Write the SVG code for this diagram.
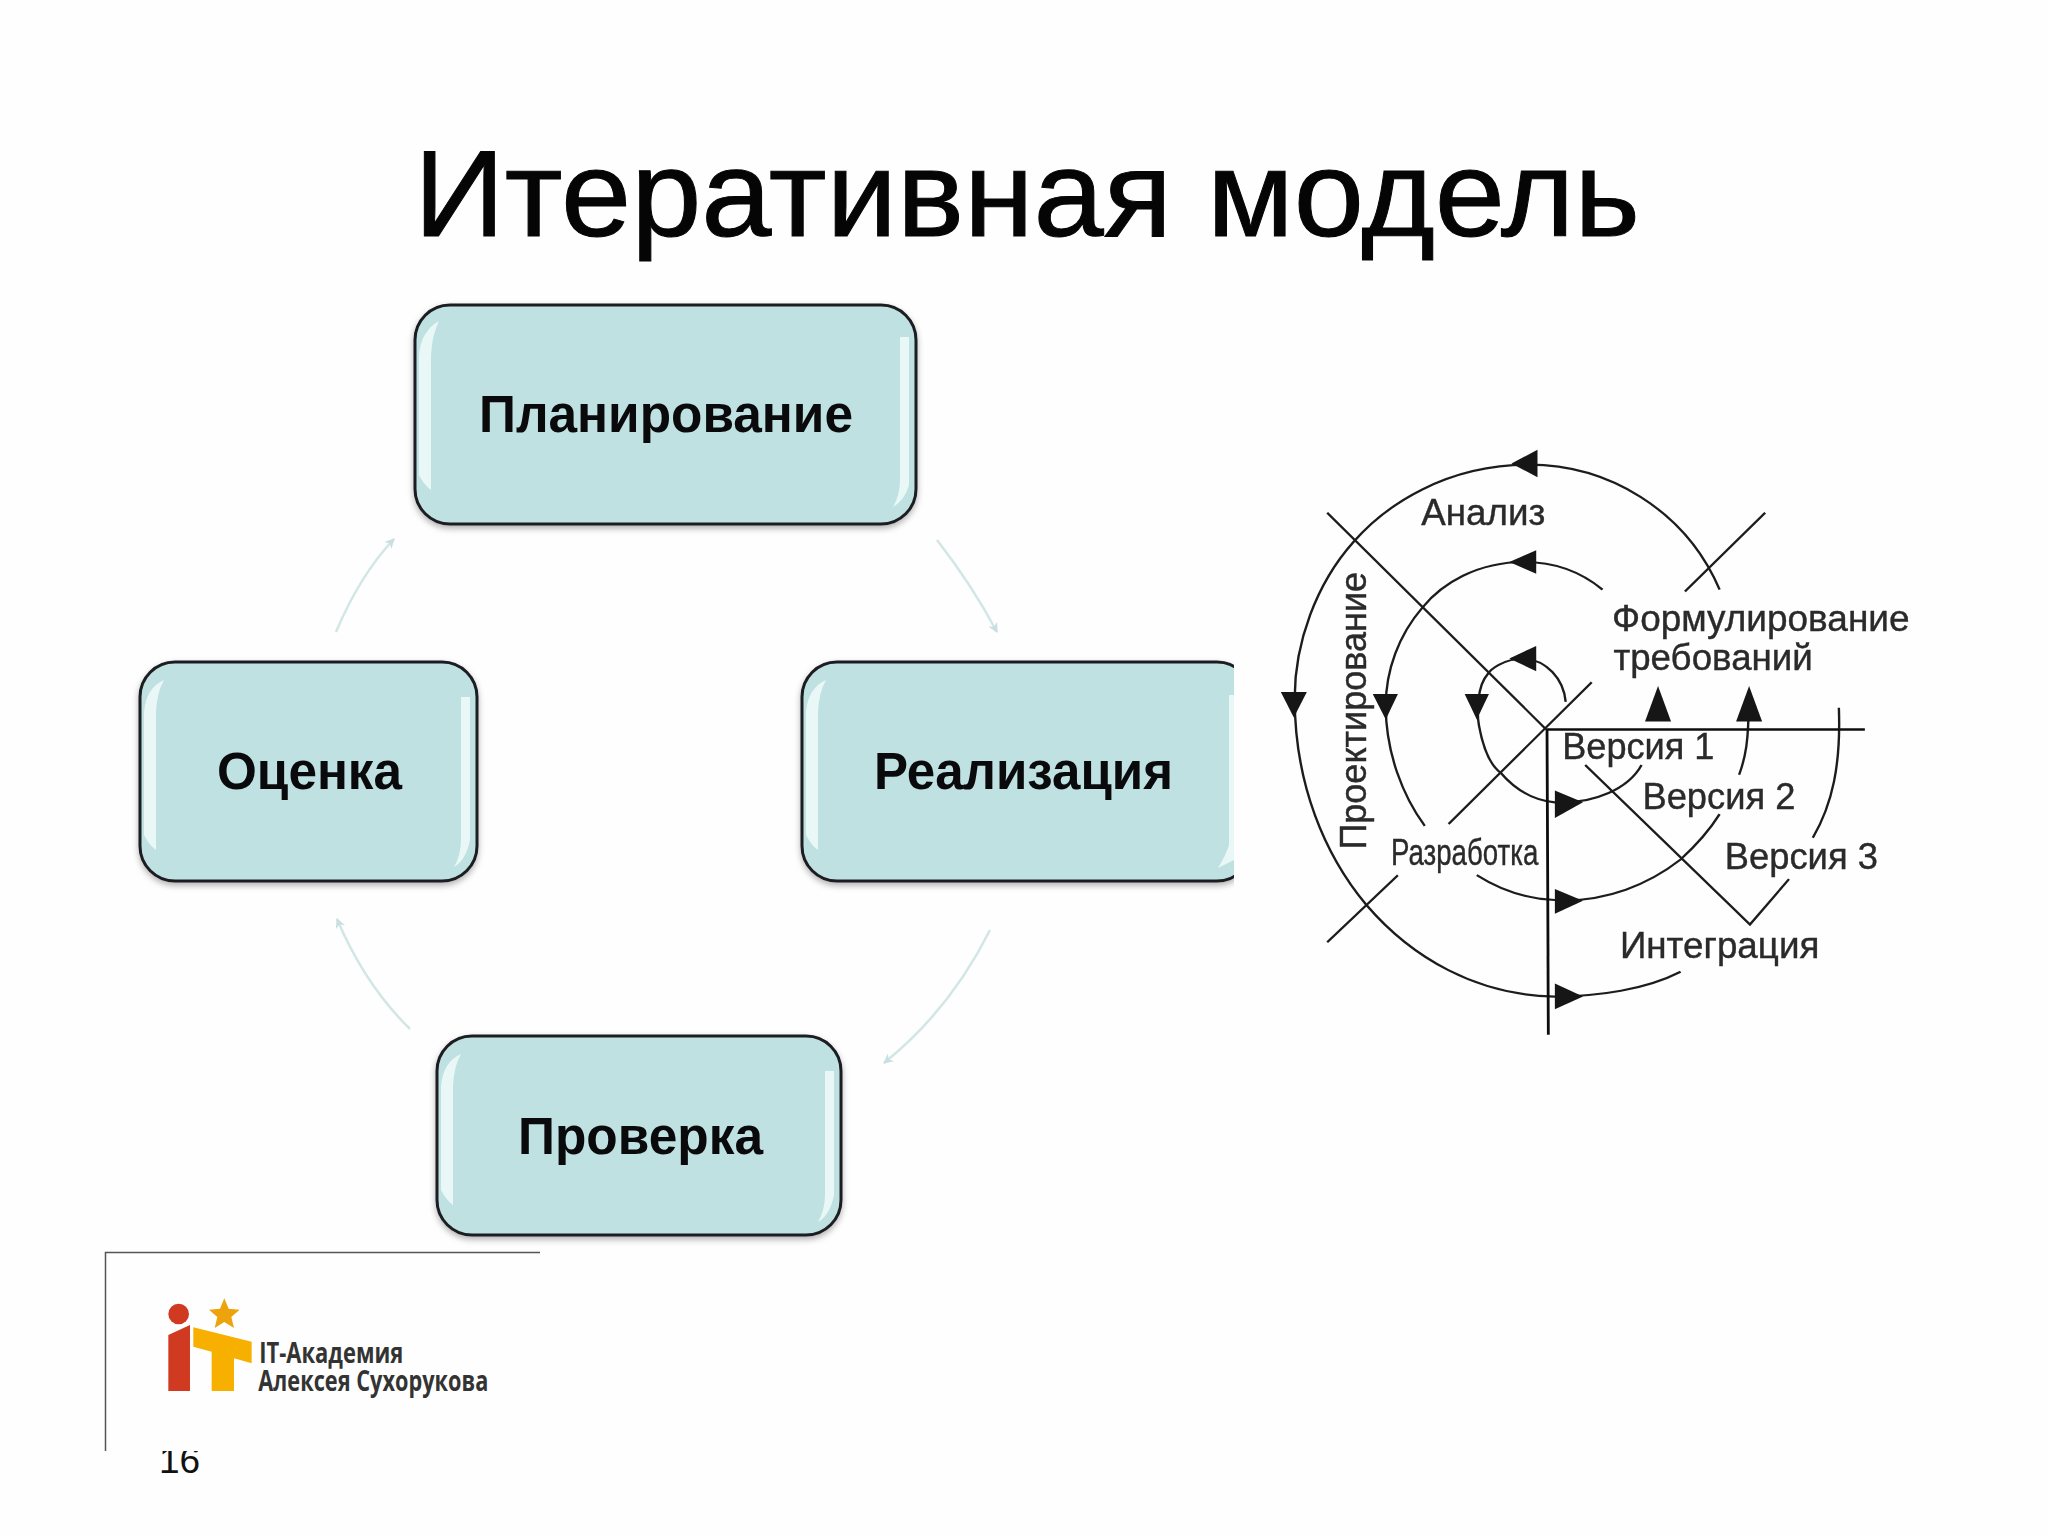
<svg xmlns="http://www.w3.org/2000/svg" width="2048" height="1536" viewBox="0 0 2048 1536">
<style>
.box{fill:#bfe1e2;stroke:#1a1f20;stroke-width:3}
.hl{fill:#f2fbfb;opacity:.85;filter:url(#soft)}
.bt{font-family:"Liberation Sans",Arial,sans-serif;font-weight:700;font-size:51px;fill:#0a0a0c}
.flow{fill:none;stroke:#d3e6e6;stroke-width:2.500;marker-end:url(#ah)}
.sp{fill:none;stroke:#1c1c1c;stroke-width:5.500}
.ax{fill:none;stroke:#111;stroke-width:6.500}
.tri{fill:#151515}
.st{font-family:"Liberation Sans",Arial,sans-serif;font-size:92px;fill:#2a2a2a;stroke:#2a2a2a;stroke-width:1}
.lt{font-family:"Open Sans","Noto Sans",sans-serif;font-weight:700;font-size:84px;fill:#333}
</style>
<defs>
<marker id="ah" markerWidth="12" markerHeight="10" refX="9" refY="5" orient="auto" markerUnits="userSpaceOnUse"><path d="M0,0L10,5L0,10L3,5Z" fill="#c9dfdf"/></marker>
<filter id="sh" x="-5%" y="-5%" width="110%" height="115%"><feDropShadow dx="0" dy="3" stdDeviation="3" flood-color="#000" flood-opacity=".3"/></filter>
<filter id="soft"><feGaussianBlur stdDeviation="0.700"/></filter>
<clipPath id="realclip"><rect x="780" y="640" width="454" height="260"/></clipPath>
<clipPath id="numclip"><rect x="150" y="1451" width="70" height="40"/></clipPath>
</defs>
<rect width="2048" height="1536" fill="#fefefe"/>
<text id="title" x="414" y="236" font-family="'Liberation Sans',Arial,sans-serif" font-size="122" fill="#050505" stroke="#050505" stroke-width="1" textLength="1226" lengthAdjust="spacingAndGlyphs">Итеративная модель</text>

<g id="connectors">
<path class="flow" d="M937,540 Q972,585 997,632"/>
<path class="flow" d="M990,930 Q950,1010 884,1063"/>
<path class="flow" d="M410,1029 Q365,985 337,919"/>
<path class="flow" d="M336,632 Q360,575 394,539"/>
</g>

<g id="node-plan">
<rect class="box" x="415" y="305" width="501" height="219" rx="35" filter="url(#sh)"/>
<path class="hl" d="M419,355Q421,331 439,321Q432,335 431,355L431,490Q424,485 419,475Z"/>
<path class="hl" d="M900,337L909,337L909,485Q905,500 893,507Q900,495 900,480Z"/>
<text class="bt" x="479" y="432" textLength="374" lengthAdjust="spacingAndGlyphs">Планирование</text>
</g>

<g id="node-real">
<g clip-path="url(#realclip)">
<rect class="box" x="802" y="662" width="450" height="219" rx="35" filter="url(#sh)"/>
<path class="hl" d="M806,712Q808,688 826,680Q819,692 818,712L818,850Q811,845 806,835Z"/>
<path class="hl" d="M1229,695L1234,695L1234,860L1218,868Q1226,855 1229,845Z"/>
</g>
<text class="bt" x="874" y="789" textLength="299" lengthAdjust="spacingAndGlyphs">Реализация</text>
</g>

<g id="node-eval">
<rect class="box" x="140" y="662" width="337" height="219" rx="35" filter="url(#sh)"/>
<path class="hl" d="M144,712Q146,688 164,680Q157,692 156,712L156,850Q149,845 144,835Z"/>
<path class="hl" d="M461,697L470,697L470,840Q466,860 454,867Q461,855 461,840Z"/>
<text class="bt" x="217" y="789" textLength="185" lengthAdjust="spacingAndGlyphs">Оценка</text>
</g>

<g id="node-check">
<rect class="box" x="437" y="1036" width="404" height="199" rx="35" filter="url(#sh)"/>
<path class="hl" d="M441,1086Q443,1062 461,1054Q454,1066 453,1086L453,1205Q446,1200 441,1190Z"/>
<path class="hl" d="M825,1071L834,1071L834,1195Q830,1215 818,1222Q825,1210 825,1195Z"/>
<text class="bt" x="518" y="1154" textLength="245" lengthAdjust="spacingAndGlyphs">Проверка</text>
</g>

<g id="spiral" transform="translate(1260,430) scale(.4336,.394)" filter="url(#soft)">
<path class="sp" d="M1060,405C980,200 800,88 620,88C430,88 290,190 215,285C130,390 80,540 80,680C80,900 150,1080 245,1205C350,1340 500,1435 680,1438C780,1438 890,1420 970,1375"/>
<path class="sp" d="M790,405C740,360 680,335 610,335C500,335 420,390 375,450C320,520 290,610 290,700C290,820 330,930 380,1005"/>
<path class="sp" d="M500,1130C550,1165 610,1190 680,1193C800,1200 900,1150 970,1090C1010,1050 1040,1010 1060,975"/>
<path class="sp" d="M1105,875C1120,830 1127,790 1127,690"/>
<path class="sp" d="M1335,705C1340,850 1320,950 1275,1035"/>
<path class="sp" d="M705,690C700,630 660,585 610,580C560,580 530,610 525,620C500,650 500,720 505,750C515,810 530,850 555,870C590,915 630,940 680,945C770,950 850,910 880,850"/>
<path class="ax" d="M660,760H1395M662,760L665,1535"/>
<path class="sp" d="M155,210L660,760M435,1000L765,640M980,410L1165,210M155,1300L318,1130M750,850L1130,1255L1220,1140"/>
<path class="tri" d="M580,85L640,50V120Z"/>
<path class="tri" d="M575,335L637,305V365Z"/>
<path class="tri" d="M575,580L637,548V612Z"/>
<path class="tri" d="M78,730L48,665H108Z"/>
<path class="tri" d="M290,735L260,670H318Z"/>
<path class="tri" d="M500,735L472,670H528Z"/>
<path class="tri" d="M745,1438L680,1405V1470Z"/>
<path class="tri" d="M745,1195L680,1165V1228Z"/>
<path class="tri" d="M745,945L680,915V985Z"/>
<path class="tri" d="M918,650L888,740H948Z"/>
<path class="tri" d="M1128,650L1098,740H1158Z"/>
<text class="st" x="372" y="240" textLength="286" lengthAdjust="spacingAndGlyphs">Анализ</text>
<text class="st" x="812" y="510" textLength="686" lengthAdjust="spacingAndGlyphs">Формулирование</text>
<text class="st" x="815" y="608" textLength="460" lengthAdjust="spacingAndGlyphs">требований</text>
<text class="st" x="697" y="835" textLength="351" lengthAdjust="spacingAndGlyphs">Версия 1</text>
<text class="st" x="882" y="963" textLength="353" lengthAdjust="spacingAndGlyphs">Версия 2</text>
<text class="st" x="1072" y="1115" textLength="353" lengthAdjust="spacingAndGlyphs">Версия 3</text>
<text class="st" x="302" y="1103" textLength="340" lengthAdjust="spacingAndGlyphs">Разработка</text>
<text class="st" x="830" y="1340" textLength="460" lengthAdjust="spacingAndGlyphs">Интеграция</text>
<text class="st" transform="translate(245,1065) rotate(-90)" textLength="705" lengthAdjust="spacingAndGlyphs" style="font-size:84px">Проектирование</text>
</g>

<g id="footer">
<path d="M105.500,1451V1252.500H540" fill="none" stroke="#555" stroke-width="1.500"/>
<g clip-path="url(#numclip)"><text x="159" y="1473" font-family="'Liberation Sans',Arial,sans-serif" font-size="37" fill="#111">16</text></g>
</g>

<g id="logo" transform="translate(90,1230) scale(.3333)">
<circle cx="266" cy="252" r="31" fill="#cf3a20"/>
<path d="M235,315L300,285V483H235Z" fill="#cf3a20"/>
<path d="M310,292L485,335V400L432,385V483H365V365L310,350Z" fill="#f7b000"/>
<path d="M403,205L416,236L449,239L424,261L432,294L403,276L374,294L382,261L357,239L390,236Z" fill="#eda40c"/>
<text class="lt" x="508" y="400" textLength="432" lengthAdjust="spacingAndGlyphs">IT-Академия</text>
<text class="lt" x="505" y="482" textLength="690" lengthAdjust="spacingAndGlyphs">Алексея Сухорукова</text>
</g>
</svg>
